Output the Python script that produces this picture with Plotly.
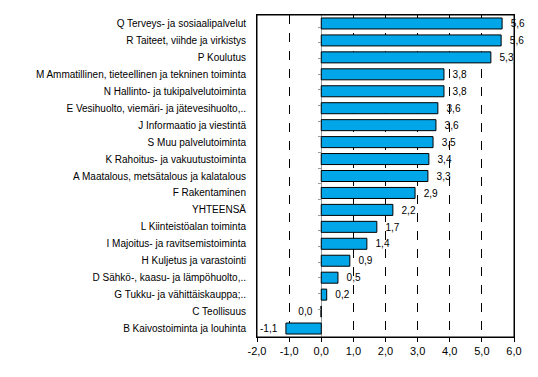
import plotly.graph_objects as go

categories = [
    "Q Terveys- ja sosiaalipalvelut",
    "R Taiteet, viihde ja virkistys",
    "P Koulutus",
    "M Ammatillinen, tieteellinen ja tekninen toiminta",
    "N Hallinto- ja tukipalvelutoiminta",
    "E Vesihuolto, viemäri- ja jätevesihuolto,..",
    "J Informaatio ja viestintä",
    "S Muu palvelutoiminta",
    "K Rahoitus- ja vakuutustoiminta",
    "A Maatalous, metsätalous ja kalatalous",
    "F Rakentaminen",
    "YHTEENSÄ",
    "L Kiinteistöalan toiminta",
    "I Majoitus- ja ravitsemistoiminta",
    "H Kuljetus ja varastointi",
    "D Sähkö-, kaasu- ja lämpöhuolto,..",
    "G Tukku- ja vähittäiskauppa;..",
    "C Teollisuus",
    "B Kaivostoiminta ja louhinta",
]
values = [5.63, 5.60, 5.28, 3.82, 3.82, 3.63, 3.57, 3.48, 3.35, 3.32,
          2.92, 2.23, 1.73, 1.42, 0.89, 0.52, 0.17, -0.01, -1.10]
value_labels = ["5,6", "5,6", "5,3", "3,8", "3,8", "3,6", "3,6", "3,5", "3,4", "3,3",
                "2,9", "2,2", "1,7", "1,4", "0,9", "0,5", "0,2", "0,0", "-1,1"]
x_tickvals = [-2, -1, 0, 1, 2, 3, 4, 5, 6]
x_ticktext = ["-2,0", "-1,0", "0,0", "1,0", "2,0", "3,0", "4,0", "5,0", "6,0"]

font_family = "Liberation Sans, Arial, sans-serif"
pad = "\u00a0\u00a0"
templates = [(pad + "%{text}") if v >= 0 else ("%{text}" + pad) for v in values]

fig = go.Figure()
fig.add_trace(go.Bar(
    x=values, y=categories, orientation="h",
    marker=dict(color="#00A6E8", line=dict(color="black", width=1)),
    text=value_labels, texttemplate=templates, textposition="outside",
    textfont=dict(family=font_family, size=11, color="black"),
    cliponaxis=False,
))
# invisible helper trace to draw category tick marks on the zero line
fig.add_trace(go.Scatter(
    x=[0] * len(categories), y=categories, yaxis="y2",
    mode="markers", marker=dict(opacity=0), showlegend=False, hoverinfo="skip",
))

# plot frame
fig.add_shape(type="rect", xref="paper", yref="paper", x0=0, x1=1, y0=0, y1=1,
              line=dict(color="black", width=1), layer="above")

# page body has an 8px default margin; compensate in figure size/margins
fig.update_layout(
    width=530, height=369,
    margin=dict(l=249, r=24, t=7, b=40, autoexpand=False),
    paper_bgcolor="white", plot_bgcolor="white",
    showlegend=False,
    bargap=0.35,
    font=dict(family=font_family, size=10, color="black"),
    xaxis=dict(
        range=[-2, 6], tickvals=x_tickvals, ticktext=x_ticktext,
        showgrid=True, gridcolor="black", gridwidth=1, griddash="dash",
        zeroline=True, zerolinecolor="#999999", zerolinewidth=1,
        showline=True, linecolor="black", linewidth=1, mirror=True,
        ticks="outside", ticklen=4, tickcolor="black",
        tickfont=dict(size=11), automargin=False,
    ),
    yaxis=dict(
        type="category", categoryarray=categories, autorange="reversed",
        showgrid=False, showline=True, linecolor="black", linewidth=1, mirror=True,
        ticks="", ticklabelstandoff=8, automargin=False,
        tickfont=dict(size=10),
    ),
    yaxis2=dict(
        type="category", categoryarray=categories, autorange="reversed",
        overlaying="y", anchor="free", position=0.25, side="left",
        showticklabels=False, showgrid=False, showline=False, automargin=False,
        ticks="outside", tickson="boundaries", ticklen=3, tickcolor="#999999",
    ),
)

fig.write_html("out.html")
